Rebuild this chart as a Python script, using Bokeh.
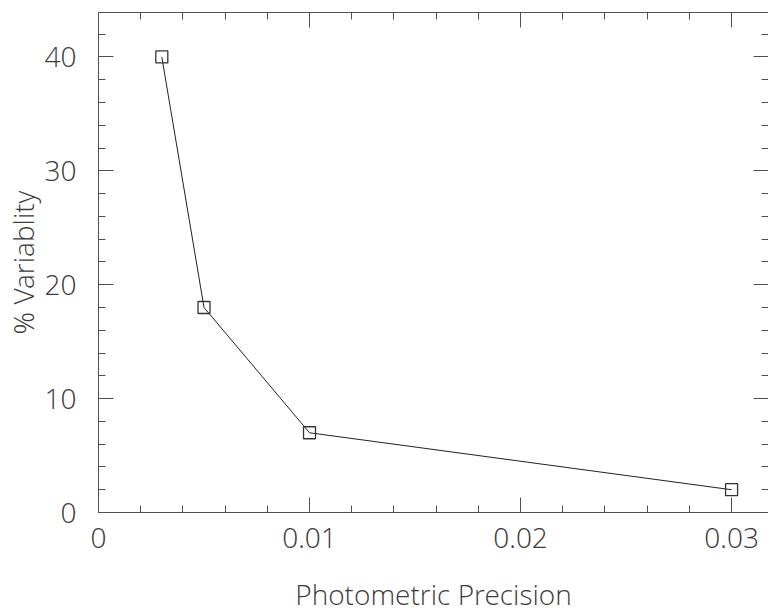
from bokeh.plotting import figure
from bokeh.models import LinearAxis, Range1d, FixedTicker
from bokeh.embed import file_html
from bokeh.resources import INLINE

precision = [0.003, 0.005, 0.01, 0.03]
variability = [40, 18, 7, 2]
x_ticks = [0, 0.01, 0.02, 0.03]
x_tick_labels = ["0", "0.01", "0.02", "0.03"]
x_minor = [0.002 * i for i in range(17)]
y_ticks = [0, 10, 20, 30, 40]
y_minor = [2 * i for i in range(23)]

FONT = "'Open Sans Light', 'Open Sans'"
GRAY = "#505050"
TEXT = "#3c3c3c"
FS = "28px"

p = figure(frame_width=670, frame_height=500, output_backend="svg", toolbar_location=None,
           x_range=Range1d(0, 0.03175), y_range=Range1d(0, 43.9),
           x_axis_location=None, y_axis_location=None,
           min_border_left=91, min_border_right=0, min_border_top=12, min_border_bottom=95)
p.grid.visible = False
p.outline_line_color = None
p.background_fill_color = "white"

xt = FixedTicker(ticks=x_ticks, minor_ticks=x_minor)
yt = FixedTicker(ticks=y_ticks, minor_ticks=y_minor)

def style(ax, labels):
    ax.major_tick_in = 15
    ax.major_tick_out = 0
    ax.minor_tick_in = 7
    ax.minor_tick_out = 0
    ax.axis_line_color = GRAY
    ax.major_tick_line_color = GRAY
    ax.minor_tick_line_color = GRAY
    ax.axis_line_width = 1
    if labels:
        ax.major_label_text_font = FONT
        ax.major_label_text_font_size = FS
        ax.major_label_text_color = TEXT
        ax.axis_label_text_font = FONT
        ax.axis_label_text_font_size = FS
        ax.axis_label_text_font_style = "normal"
        ax.axis_label_text_color = TEXT
    else:
        ax.major_label_text_font_size = "1px"
        ax.major_label_standoff = 0

bottom = LinearAxis(ticker=xt, axis_label="Photometric Precision")
bottom.major_label_overrides = dict(zip(x_ticks, x_tick_labels))
style(bottom, True)
bottom.major_label_standoff = 15
bottom.axis_label_standoff = 24
left = LinearAxis(ticker=yt, axis_label="% Variablity")
style(left, True)
left.major_label_standoff = 22
left.axis_label_standoff = 0
top = LinearAxis(ticker=xt)
top.major_label_overrides = {t: "" for t in x_ticks}
style(top, False)
right = LinearAxis(ticker=yt)
right.major_label_overrides = {t: "" for t in y_ticks}
style(right, False)
right.axis_line_color = None

p.add_layout(bottom, "below")
p.add_layout(left, "left")
p.add_layout(top, "above")
p.add_layout(right, "right")

p.line(precision, variability, line_color="#222222", line_width=1)
p.scatter(precision, variability, marker="square", size=12, fill_color=None,
          line_color="#333333", line_width=1.3)

open("out.html", "w").write(file_html(p, INLINE))
